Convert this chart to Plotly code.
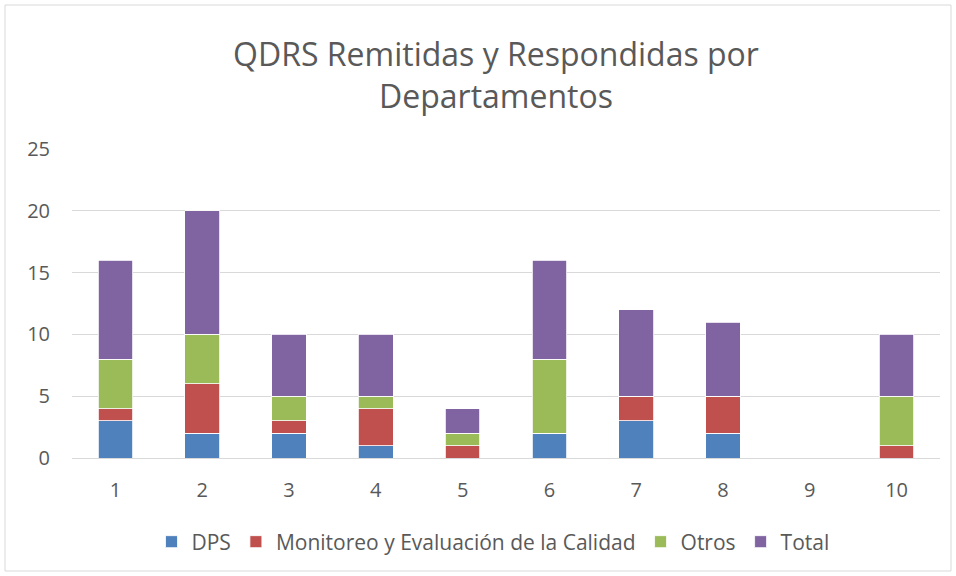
import plotly.graph_objects as go

categories = ["1", "2", "3", "4", "5", "6", "7", "8", "9", "10"]
dps = [3, 2, 2, 1, 0, 2, 3, 2, 0, 0]
monitoreo = [1, 4, 1, 3, 1, 0, 2, 3, 0, 1]
otros = [4, 4, 2, 1, 1, 6, 0, 0, 0, 4]
total = [8, 10, 5, 5, 2, 8, 7, 6, 0, 5]

series = [
    ("DPS", dps, "#4F81BD"),
    ("Monitoreo y Evaluación de la Calidad", monitoreo, "#C0504D"),
    ("Otros", otros, "#9BBB59"),
    ("Total", total, "#8064A2"),
]

W, H = 956, 576
L, R, T, B = 72, 16, 149, 118
pw, ph = W - L - R, H - T - B

def px(x):
    return (x - L) / pw

def py(y):
    return (H - B - y) / ph

fig = go.Figure()
for name, vals, color in series:
    fig.add_trace(go.Bar(
        x=categories, y=vals, name=name,
        marker=dict(color=color, line=dict(color="white", width=0.8)),
    ))

font_family = "Open Sans, Noto Sans, sans-serif"
fig.update_layout(
    width=W, height=H,
    barmode="stack", bargap=0.6,
    paper_bgcolor="white", plot_bgcolor="white",
    margin=dict(l=L, r=R, t=T, b=B),
    font=dict(family=font_family, color="#595959", size=20),
    title=dict(
        text="QDRS Remitidas y Respondidas por<br>Departamentos",
        x=px(496), xanchor="center", xref="paper",
        y=1 - 66 / H, yanchor="middle", yref="container",
        font=dict(size=32, color="#595959", family=font_family),
    ),
    showlegend=True,
    legend=dict(
        orientation="h", x=px(493), xanchor="center",
        y=py(542), yanchor="middle", traceorder="normal",
        font=dict(size=21, color="#595959"),
        itemwidth=30, tracegroupgap=0,
    ),
    xaxis=dict(
        type="category", showgrid=False, zeroline=False,
        showline=False, ticks="", ticklabelstandoff=18,
        tickfont=dict(size=20, color="#595959"),
    ),
    yaxis=dict(
        range=[0, 25], dtick=5, showgrid=True, gridcolor="#D9D9D9",
        gridwidth=1, zeroline=True, zerolinecolor="#D9D9D9", zerolinewidth=1,
        ticks="", ticklabelstandoff=21,
        tickfont=dict(size=20, color="#595959"),
    ),
    shapes=[dict(
        type="rect", xref="paper", yref="paper",
        x0=px(5), x1=px(951), y0=py(571), y1=py(5),
        line=dict(color="#D9D9D9", width=1), fillcolor="rgba(0,0,0,0)",
        layer="below",
    )],
)

fig.write_html("out.html", config={"displayModeBar": False},
               post_script="document.body.style.margin='0';")
